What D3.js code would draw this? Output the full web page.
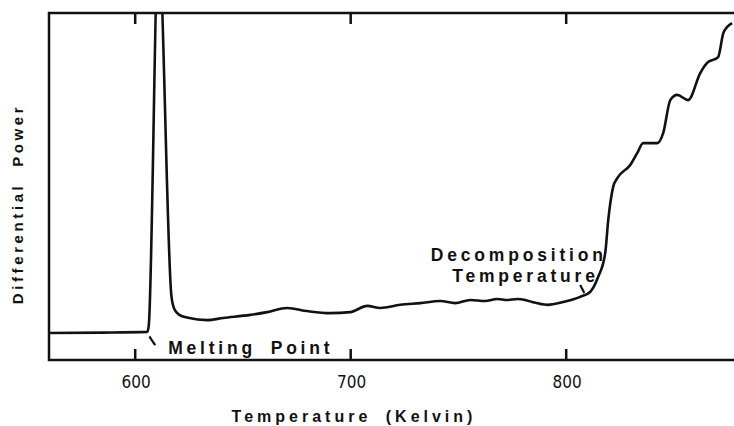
<!DOCTYPE html>
<html>
<head>
<meta charset="utf-8">
<script src="https://cdn.jsdelivr.net/npm/d3@7"></script>
<style>
  body { margin: 0; background: #fff; }
  text { font-family: "Liberation Sans", Arial, sans-serif; font-weight: bold; fill: #111; }
</style>
</head>
<body>
<div id="chart"></div>
<script>
// Temperature (K) and differential power (arbitrary units, 0-100 = full height)
const temps = [560, 585, 605.6, 606.3, 610.8, 616.8, 618.2, 620.5, 624.5, 633.4, 640.8, 653.4, 661.3, 670.5, 679.8,
    690.5, 699.8, 707.7, 713.7, 723, 732.3, 741.5, 748.5, 755.5, 762.4, 768, 772.6, 777.3, 781,
    784.2, 791.2, 798.6, 806.5, 811.1, 814.8, 818.1, 819.5, 821.8, 823.7, 829.7, 833, 835.7,
    842.2, 845, 848.3, 851.5, 856.6, 862.2, 865.4, 870.5, 872.9, 874.7, 877];
const power = [7.8, 7.9, 8.1, 10, 120, 18.5, 14.6, 13.0, 12.2, 11.5, 12.1, 13.0, 13.8, 15.0, 14.1,
    13.5, 13.8, 15.6, 15.0, 15.9, 16.4, 17.0, 16.4, 17.3, 17.0, 17.6, 17.3, 17.6, 17.3,
    16.7, 15.9, 16.7, 18.2, 19.6, 23.9, 30.8, 40.3, 49.9, 52.4, 56.2, 59.7, 62.5,
    62.5, 65.4, 74.9, 76.4, 74.9, 82.7, 85.6, 87.3, 94.2, 96, 97.1];
const xTicks = [600, 700, 800];

// annotations: [T, power] anchors
const meltPointer = [[606.6, 6.8], [607.8, 5.6], [609.3, 4.3]];
const decompPointer = [[806.5, 21.6], [808.4, 19.3]];
const labels = [
    { text: 'Melting Point', t: 615.3, p: 1.6 },
    { text: 'Decomposition', t: 737.2, p: 28.4 },
    { text: 'Temperature', t: 747.1, p: 22.4 }
];

const svgWidth = 734, svgHeight = 426;
const plotLeft = 49, plotTop = 13, plotBottom = 360;

const svg = d3.select('#chart')
    .append('svg')
    .attr('width', svgWidth)
    .attr('height', svgHeight);

const xScale = d3.scaleLinear().domain([560, 880]).range([plotLeft, plotLeft + 320 * 2.155]);
const yScale = d3.scaleLinear().domain([0, 100]).range([plotBottom, plotTop]);

svg.append('clipPath').attr('id', 'clip')
    .append('rect')
    .attr('x', plotLeft).attr('y', plotTop)
    .attr('width', svgWidth - plotLeft).attr('height', plotBottom - plotTop);

// frame: left, top, bottom lines
svg.append('path')
    .attr('d', `M${svgWidth},${plotTop}H${plotLeft}V${plotBottom}H${svgWidth}`)
    .attr('stroke', '#111').attr('stroke-width', 2.5).attr('fill', 'none');

// ticks inward on top and bottom
svg.append('path')
    .attr('d', xTicks.map(t => `M${xScale(t)},${plotBottom}V${plotBottom - 11}M${xScale(t)},${plotTop}V${plotTop + 11}`).join(''))
    .attr('fill', 'none')
    .attr('stroke', '#111')
    .attr('stroke-width', 2.5);

// tick labels
svg.append('g')
    .selectAll('text')
    .data(xTicks)
    .join('text')
    .attr('x', d => xScale(d) + 1)
    .attr('y', plotBottom + 28)
    .style('text-anchor', 'middle')
    .style('font-family', '"Liberation Sans Narrow", "DejaVu Sans Condensed", sans-serif')
    .style('font-size', '17px')
    .style('font-weight', 'normal')
    .text(d => d);

// the curve
const line = d3.line()
    .x((d, i) => xScale(temps[i]))
    .y((d, i) => yScale(power[i]))
    .curve(d3.curveMonotoneX);

svg.append('path')
    .datum(power)
    .attr('clip-path', 'url(#clip)')
    .attr('fill', 'none')
    .attr('stroke', '#111')
    .attr('stroke-width', 2.6)
    .attr('stroke-linejoin', 'round')
    .attr('d', line);

// pointers
const pLine = d3.line().x(d => xScale(d[0])).y(d => yScale(d[1])).curve(d3.curveBasis);
[meltPointer, decompPointer].forEach(p => {
    svg.append('path')
        .attr('d', pLine(p))
        .attr('fill', 'none')
        .attr('stroke', '#111')
        .attr('stroke-width', 2.2);
});

// labels
svg.selectAll('.note')
    .data(labels)
    .join('text')
    .attr('class', 'note')
    .attr('x', d => xScale(d.t))
    .attr('y', d => yScale(d.p))
    .style('font-size', '17.5px')
    .style('letter-spacing', '3.8px')
    .style('word-spacing', '6px')
    .text(d => d.text);

// axis titles
svg.append('text')
    .attr('x', 354)
    .attr('y', 422)
    .style('text-anchor', 'middle')
    .style('font-size', '16px')
    .style('letter-spacing', '4px')
    .style('word-spacing', '6px')
    .text('Temperature (Kelvin)');

svg.append('text')
    .attr('transform', 'rotate(-90)')
    .attr('x', -204)
    .attr('y', 23)
    .style('text-anchor', 'middle')
    .style('font-size', '15px')
    .style('letter-spacing', '3.6px')
    .style('word-spacing', '8px')
    .text('Differential Power');
</script>
</body>
</html>
